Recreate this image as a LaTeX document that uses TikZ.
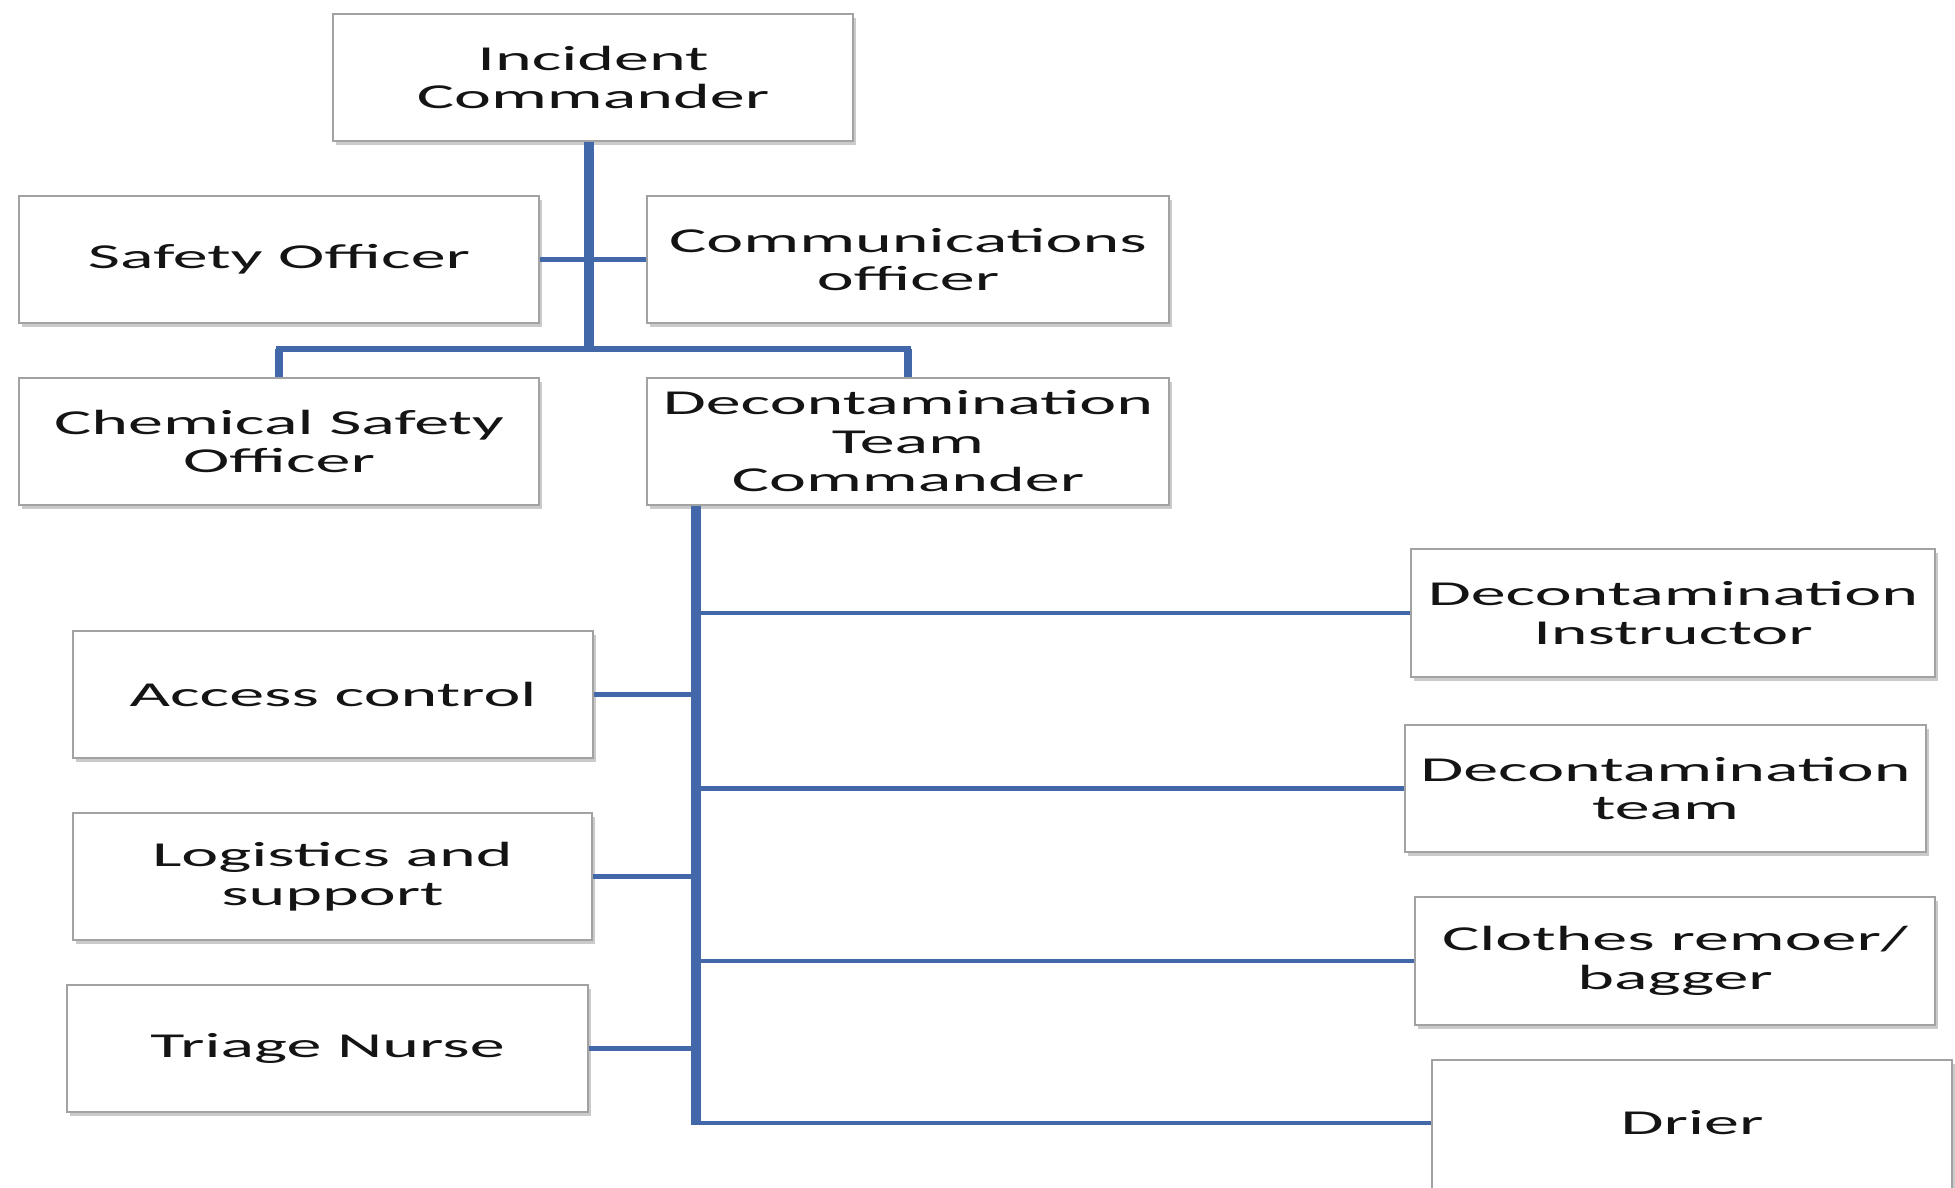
\documentclass[tikz,border=0pt]{standalone}
\usepackage{fontspec}
\setmainfont[FakeStretch=2.0]{Carlito}
\usetikzlibrary{shadows}
\definecolor{linkblue}{HTML}{4268A9}
\definecolor{boxline}{HTML}{A2A2A2}
\definecolor{txt}{HTML}{141414}
\tikzset{
  box/.style={draw=boxline, line width=1.8pt, fill=white, inner sep=0pt,
    minimum height=127pt, align=center, text=txt,
    font=\fontsize{35}{38.5}\selectfont,
    drop shadow={shadow xshift=3pt, shadow yshift=-4pt, opacity=0.35, fill=black!60}},
  vthick/.style={draw=linkblue, line width=10pt},
  vmid/.style={draw=linkblue, line width=8.5pt},
  hbar/.style={draw=linkblue, line width=6.5pt},
  hmid/.style={draw=linkblue, line width=5.5pt},
  hthin/.style={draw=linkblue, line width=4.5pt}
}
\begin{document}
\begin{tikzpicture}[x=1pt, y=-1pt]
\clip (0,0) rectangle (1955,1187);
\useasboundingbox (0,0) rectangle (1955,1187);
% coordinates of junctions
\coordinate (bar) at (589,349);
\coordinate (dtb) at (696,1123);
% boxes
\node[box, minimum width=520pt] (IC)  at (593,77.5)   {Incident\\Commander};
\node[box, minimum width=520pt] (SO)  at (279,259.5)  {Safety Officer};
\node[box, minimum width=522pt] (CO)  at (908,259.5)  {Communications\\officer};
\node[box, minimum width=520pt] (CSO) at (279,441.5)  {Chemical Safety\\Officer};
\node[box, minimum width=522pt] (DTC) at (908,441.5)  {Decontamination\\Team\\Commander};
\node[box, minimum width=520pt] (AC)  at (333,694.5)  {Access control};
\node[box, minimum width=519pt] (LS)  at (332.5,876.5){Logistics and\\support};
\node[box, minimum width=521pt] (TN)  at (327.5,1048.5){Triage Nurse};
\node[box, minimum width=524pt, minimum height=128pt] (DI) at (1673,613) {Decontamination\\Instructor};
\node[box, minimum width=521pt] (DT)  at (1665.5,788.5){Decontamination\\team};
\node[box, minimum width=520pt, minimum height=128pt] (CR) at (1675,961) {Clothes remoer/\\bagger};
\node[box, minimum width=520pt, minimum height=134pt] (DR) at (1692,1127) {\raisebox{9pt}{Drier}};
% top tree
\draw[vthick] (bar |- IC.south) -- (bar);
\draw[hmid] (SO.east) -- (CO.west);
\draw[hbar, line cap=rect] (CSO.north |- bar) -- (DTC.north |- bar);
\draw[vmid] (CSO.north |- bar) -- (CSO.north);
\draw[vmid] (DTC.north |- bar) -- (DTC.north);
% lower tree
\draw[vthick] (dtb |- DTC.south) -- ([yshift=-2pt]dtb);
\draw[hmid] (AC.east) -- (AC.east -| dtb);
\draw[hmid] (LS.east) -- (LS.east -| dtb);
\draw[hmid] (TN.east) -- (TN.east -| dtb);
\draw[hthin] (dtb |- DI.west) -- (DI.west);
\draw[hthin] (dtb |- DT.west) -- (DT.west);
\draw[hthin] (dtb |- CR.west) -- (CR.west);
\draw[hthin] ([xshift=-5pt]dtb) -- (dtb -| DR.west);
\end{tikzpicture}
\end{document}
